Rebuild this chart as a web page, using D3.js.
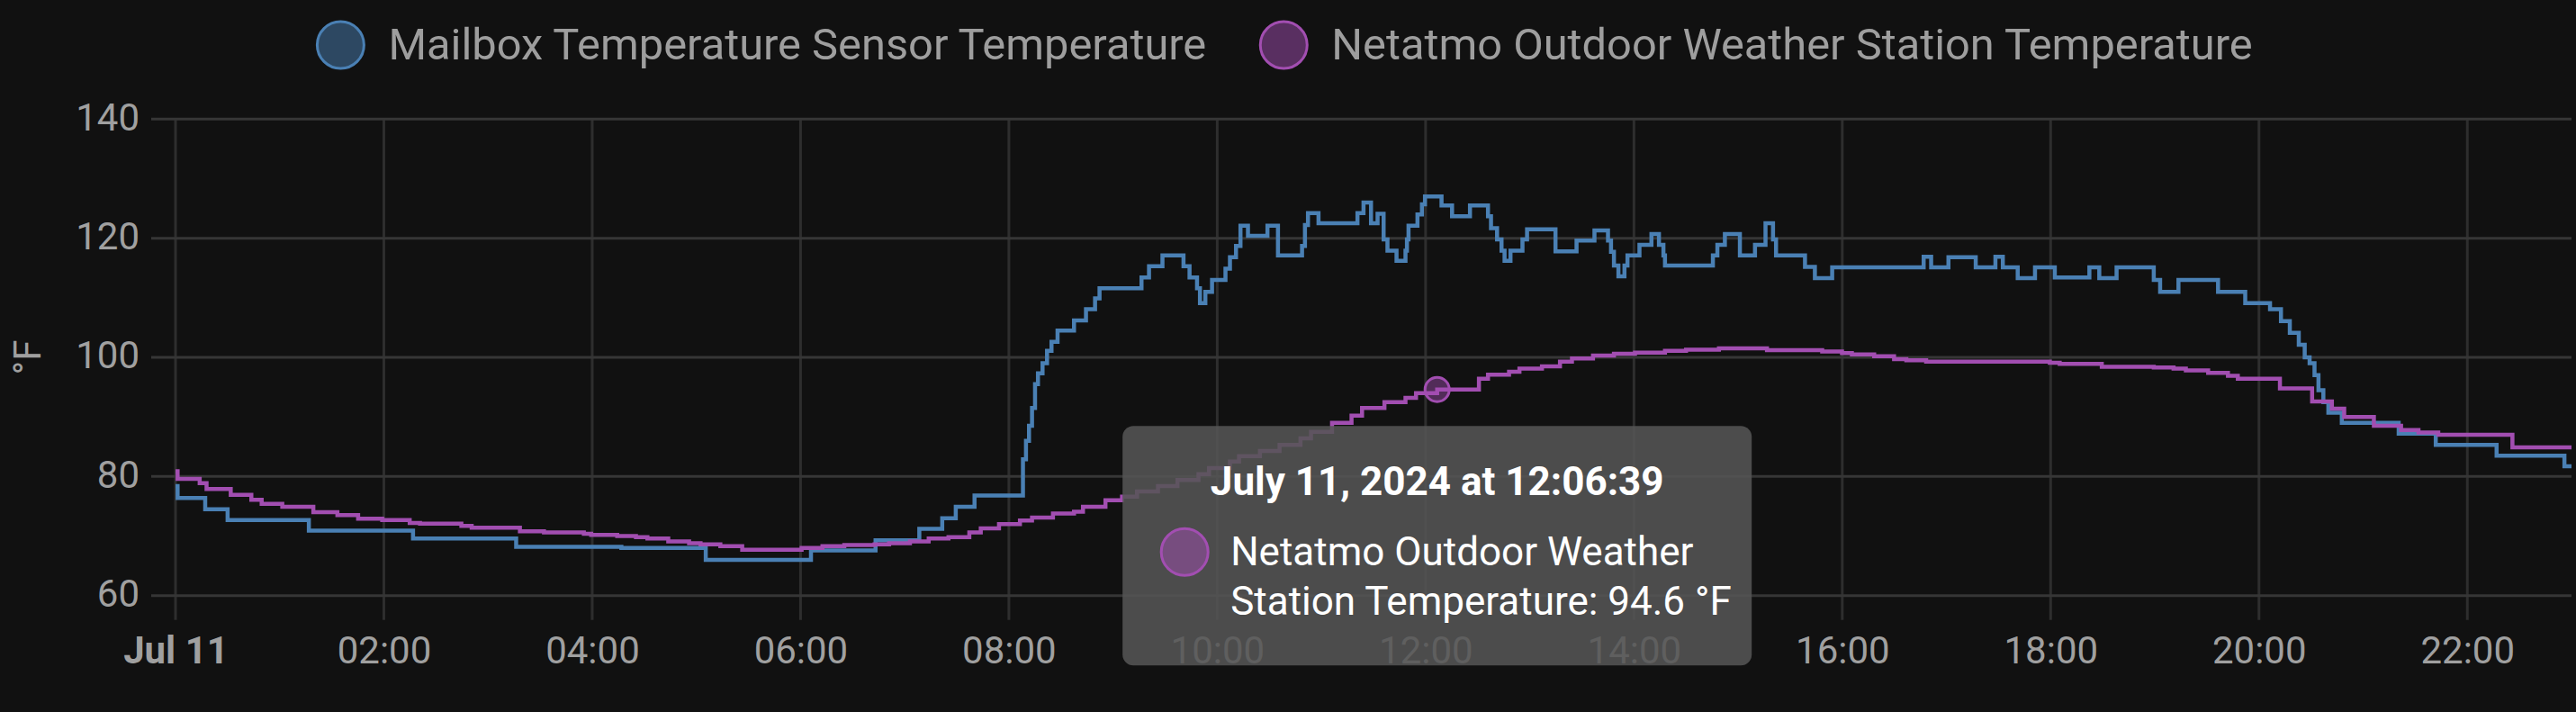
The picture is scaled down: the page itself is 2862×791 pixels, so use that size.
<!DOCTYPE html>
<html><head><meta charset="utf-8">
<script src="https://cdn.jsdelivr.net/npm/d3@7"></script>
<style>
html,body{margin:0;padding:0;background:#111111;}
svg{display:block;}
</style></head>
<body>
<svg id="chart" width="2862" height="791"></svg>
<script>
// ---------------- DATA ----------------
const seriesNames = ["Mailbox Temperature Sensor Temperature", "Netatmo Outdoor Weather Station Temperature"];
const seriesColors = ["#4a80b4", "#a24eb1"];
const unitLabel = "°F";
const yTickValues = [60, 80, 100, 120, 140];
const yDomain = [60, 140];
const domainHours = [0, 23];            // hours after midnight, Jul 11 2024
const hoverTime = [12, 6, 39];          // tooltip time (h, m, s)
const hoverValue = 94.6;                // Netatmo value under the cursor

// [hours after midnight, °F] — each value holds until the next change
const mailboxTemps = [
[0.00,78.4],[0.02,76.4],[0.285,74.5],[0.50,72.7],[1.28,70.9],[2.28,69.6],[3.27,68.2],[4.28,68.0],
[5.09,66.0],[6.10,67.6],[6.72,69.3],[7.14,71.2],[7.36,73.0],[7.49,74.9],[7.67,76.8],
[8.135,82.9],[8.164,86.0],[8.193,88.5],[8.222,91.5],[8.251,95.5],[8.279,97.3],[8.323,99.0],
[8.366,101.1],[8.409,102.6],[8.467,104.5],[8.625,106.2],[8.740,108.1],[8.827,109.9],[8.870,111.6],
[9.273,113.4],[9.345,115.3],[9.474,117.1],[9.676,115.3],[9.734,113.4],[9.806,111.6],[9.834,109.1],
[9.886,111.0],[9.950,113.0],[10.079,114.9],[10.122,116.8],[10.180,118.7],[10.223,122.1],[10.295,120.4],
[10.482,122.1],[10.583,117.1],[10.814,118.7],[10.842,122.2],[10.871,124.2],[10.972,122.5],[11.346,124.2],
[11.404,126.0],[11.476,122.5],[11.539,124.1],[11.597,119.8],[11.634,117.9],[11.721,116.2],[11.807,117.9],
[11.821,119.8],[11.836,122.1],[11.922,124.0],[11.965,125.7],[11.994,127.0],[12.153,125.5],[12.254,123.7],
[12.426,125.5],[12.599,123.7],[12.628,121.7],[12.686,119.8],[12.729,117.9],[12.758,116.2],[12.815,117.9],
[12.930,119.8],[12.974,121.5],[13.247,117.8],[13.449,119.6],[13.621,121.3],[13.751,119.6],[13.780,117.7],
[13.808,115.4],[13.851,113.6],[13.909,115.4],[13.938,117.1],[14.053,118.9],[14.168,120.7],[14.240,118.9],
[14.283,117.1],[14.298,115.4],[14.758,117.1],[14.801,118.9],[14.873,120.7],[15.017,117.1],[15.162,118.9],
[15.263,122.5],[15.335,119.8],[15.364,117.1],[15.642,115.2],[15.737,113.3],[15.903,115.1],[16.781,116.9],
[16.853,115.1],[17.019,116.8],[17.281,115.1],[17.470,116.9],[17.541,115.1],[17.684,113.3],[17.850,115.1],
[18.040,113.4],[18.372,115.1],[18.467,113.3],[18.633,115.1],[18.990,113.0],[19.051,111.0],[19.227,113.0],
[19.607,111.0],[19.868,109.1],[20.106,108.1],[20.211,106.1],[20.296,104.1],[20.382,102.1],[20.439,100.0],
[20.486,99.0],[20.533,97.0],[20.571,94.5],[20.618,92.5],[20.666,90.7],[20.795,89.0],[21.341,87.2],
[21.697,85.3],[22.281,83.5],[22.932,81.7],[23.0,81.7]
];

const netatmoTemps = [
[0.00,80.9],[0.02,79.6],[0.232,78.9],[0.298,77.9],[0.530,76.9],[0.728,76.1],[0.827,75.4],[1.025,74.9],
[1.323,74.0],[1.554,73.5],[1.753,72.9],[1.984,72.7],[2.248,72.2],[2.347,72.1],[2.744,71.7],[2.843,71.4],
[3.306,70.8],[3.537,70.6],[3.92,70.4],[3.99,70.2],[4.24,70.0],[4.42,69.8],[4.53,69.6],[4.73,69.1],
[4.93,68.8],[5.04,68.6],[5.23,68.3],[5.44,67.7],[6.01,68.0],[6.21,68.3],[6.42,68.5],[6.71,68.6],
[6.85,68.8],[7.05,69.1],[7.23,69.6],[7.42,69.8],[7.62,70.6],[7.73,71.3],[7.905,72.0],[8.106,72.6],
[8.222,73.1],[8.423,73.8],[8.625,74.1],[8.711,74.9],[8.927,76.0],[9.086,76.6],[9.230,77.5],[9.431,78.4],
[9.618,79.4],[9.820,80.4],[9.921,81.4],[10.122,82.5],[10.209,83.4],[10.410,84.3],[10.598,85.3],[10.799,86.4],
[10.900,87.5],[11.102,89.0],[11.289,90.2],[11.39,91.5],[11.605,92.5],[11.807,93.2],[11.908,94.0],[12.111,94.6],
[12.512,96.4],[12.599,97.1],[12.801,97.6],[12.901,98.1],[13.117,98.5],[13.290,99.3],[13.405,99.8],[13.607,100.3],
[13.808,100.6],[14.010,100.8],[14.298,101.1],[14.500,101.3],[14.816,101.5],[15.277,101.2],[15.807,101.0],
[15.997,100.7],[16.092,100.5],[16.306,100.2],[16.497,99.7],[16.615,99.5],[16.805,99.3],[17.992,99.1],
[18.087,98.9],[18.491,98.4],[18.990,98.3],[19.180,98.1],[19.298,97.8],[19.512,97.4],[19.702,96.9],
[19.797,96.4],[20.201,94.8],[20.510,92.6],[20.700,91.4],[20.818,90.0],[21.103,88.5],[21.364,87.8],
[21.531,87.4],[21.721,87.0],[22.433,84.9],[23.0,84.9]
];

// ---------------- CHART ----------------
const FONT = "Roboto, 'Noto Sans', sans-serif";
const svg = d3.select("#chart");
const t0 = new Date(2024, 6, 11, 0, 0, 0);
const toDate = h => new Date(t0.getTime() + Math.round(h * 3600000));

const plot = {left: 195, right: 2857, top: 132.3, bottom: 661.7};
const x = d3.scaleTime().domain(domainHours.map(toDate)).range([plot.left, plot.right]);
const y = d3.scaleLinear().domain(yDomain).range([plot.bottom, plot.top]);

// grid
const xTicks = x.ticks(d3.timeHour.every(2));
svg.append("g").selectAll("line").data(xTicks).join("line")
  .attr("x1", d => x(d)).attr("x2", d => x(d))
  .attr("y1", plot.top).attr("y2", plot.bottom + 27)
  .attr("stroke", "#2e2e2e").attr("stroke-width", 3);
svg.append("g").selectAll("line").data(yTickValues).join("line")
  .attr("x1", plot.left - 27).attr("x2", plot.right)
  .attr("y1", d => y(d)).attr("y2", d => y(d))
  .attr("stroke", "#363636").attr("stroke-width", 3);

// y axis labels
const gy = svg.append("g").attr("transform", `translate(${plot.left},0)`)
  .call(d3.axisLeft(y).tickValues(yTickValues).tickSize(0).tickPadding(40));
gy.select(".domain").remove();
gy.selectAll("text").attr("fill", "#a0a0a0").attr("font-size", 42)
  .attr("font-family", FONT).attr("dy", "0.28em");

// x axis labels
const fmtTime = d3.timeFormat("%H:%M"), fmtDay = d3.timeFormat("%b %-d");
const gx = svg.append("g").attr("transform", `translate(0,${plot.bottom})`)
  .call(d3.axisBottom(x).tickValues(xTicks).tickSize(0)
    .tickFormat(d => d.getHours() === 0 ? fmtDay(d) : fmtTime(d)));
gx.select(".domain").remove();
gx.selectAll("text").attr("fill", "#a0a0a0").attr("font-size", 42)
  .attr("font-family", FONT).attr("y", 75.6).attr("dy", 0)
  .attr("font-weight", d => d.getHours() === 0 ? "bold" : "normal");

// y axis title
svg.append("text").attr("transform", `translate(45,${(plot.top + plot.bottom) / 2}) rotate(-90)`)
  .attr("text-anchor", "middle").attr("fill", "#a0a0a0").attr("font-size", 42)
  .attr("font-family", FONT).text(unitLabel);

// lines
const line = d3.line().x(d => x(toDate(d[0]))).y(d => y(d[1])).curve(d3.curveStepAfter);
[mailboxTemps, netatmoTemps].forEach((data, i) => {
  svg.append("path").datum(data).attr("d", line).attr("fill", "none")
    .attr("stroke", seriesColors[i]).attr("stroke-width", 4.5);
});

// legend
const legend = svg.append("g");
let cursor = 0;
seriesNames.forEach((name, i) => {
  const g = legend.append("g");
  g.append("circle").attr("cx", 0).attr("cy", 50).attr("r", 26)
    .attr("fill", seriesColors[i]).attr("fill-opacity", 0.5)
    .attr("stroke", seriesColors[i]).attr("stroke-width", 3);
  const t = g.append("text").attr("x", 53).attr("y", 66).attr("fill", "#9e9e9e")
    .attr("font-size", 48.8).attr("font-family", FONT).text(name);
  const w = t.node().getComputedTextLength();
  g.attr("transform", `translate(${cursor + 27},0)`);
  cursor += 27 + 53 + w + 59;
});
const legendWidth = cursor - 59;
legend.attr("transform", `translate(${1427 - legendWidth / 2},0)`);

// hover dot
const hoverDate = new Date(2024, 6, 11, hoverTime[0], hoverTime[1], hoverTime[2]);
const cx = x(hoverDate), cy = y(hoverValue);
svg.append("circle").attr("cx", cx).attr("cy", cy).attr("r", 13.5)
  .attr("fill", seriesColors[1]).attr("fill-opacity", 0.45)
  .attr("stroke", seriesColors[1]).attr("stroke-width", 3);

// tooltip
const bw = 699, bh = 266, bx = cx - bw / 2, by = cy + 40.5;
const tip = svg.append("g").attr("transform", `translate(${bx},${by})`);
tip.append("rect").attr("width", bw).attr("height", bh).attr("rx", 12)
  .attr("fill", "rgb(85,85,85)").attr("fill-opacity", 0.87);
tip.append("text").attr("x", bw / 2).attr("y", 77).attr("text-anchor", "middle")
  .attr("fill", "#ffffff").attr("font-size", 44).attr("font-weight", "bold")
  .attr("font-family", FONT).text(d3.timeFormat("%B %-d, %Y at %H:%M:%S")(hoverDate));
tip.append("circle").attr("cx", 69).attr("cy", 140).attr("r", 26)
  .attr("fill", seriesColors[1]).attr("fill-opacity", 0.5)
  .attr("stroke", seriesColors[1]).attr("stroke-width", 3);
const tt = tip.append("text").attr("fill", "#ffffff").attr("font-size", 44).attr("font-family", FONT);
tt.append("tspan").attr("x", 120).attr("y", 155).text("Netatmo Outdoor Weather");
tt.append("tspan").attr("x", 120).attr("y", 210)
  .text(`Station Temperature: ${hoverValue} ${unitLabel}`);
</script>
</body></html>
